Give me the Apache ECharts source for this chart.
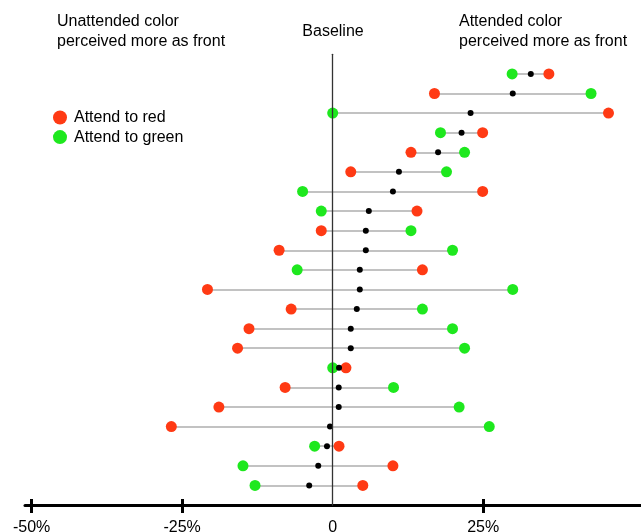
<!DOCTYPE html>
<html>
<head>
<meta charset="utf-8">
<script src="https://cdn.jsdelivr.net/npm/echarts@6/dist/echarts.min.js"></script>
<style>html,body{margin:0;padding:0;background:#fff}#c{width:641px;height:532px}</style>
</head>
<body>
<div id="c"></div>
<script>
// rows from top (1) to bottom (22)
var rows = [1,2,3,4,5,6,7,8,9,10,11,12,13,14,15,16,17,18,19,20,21,22];
var attendRed   = [35.9, 16.9, 45.8, 24.9, 13.0, 3.0, 24.9, 14.0, -1.9, -8.9, 14.9, -20.8, -6.9, -13.9, -15.8, 2.2, -7.9, -18.9, -26.8, 1.05, 10.0, 5.0];
var attendGreen = [29.8, 42.9, 0.0, 17.9, 21.9, 18.9, -5.0, -1.9, 13.0, 19.9, -5.9, 29.9, 14.9, 19.9, 21.9, 0.0, 10.1, 21.0, 26.0, -3.0, -14.9, -12.9];
var meanVals    = [32.9, 29.9, 22.9, 21.4, 17.5, 11.0, 10.0, 6.0, 5.5, 5.5, 4.5, 4.5, 4.0, 3.0, 3.0, 1.05, 1.0, 1.0, -0.45, -0.95, -2.4, -3.9];
var tickValues  = [-50, -25, 25];
var labelValues = [-50, -25, 0, 25];

var FONT = "'Liberation Sans', Arial, sans-serif";
var RED = '#ff3a14', GREEN = '#1ee81e';

var chart = echarts.init(document.getElementById('c'), null, {renderer: 'canvas'});

var segs = rows.map(function (r, i) { return {coords: [[attendRed[i], r], [attendGreen[i], r]]}; });
var redPts = rows.map(function (r, i) { return [attendRed[i], r]; });
var greenPts = rows.map(function (r, i) { return [attendGreen[i], r]; });
var meanPts = rows.map(function (r, i) { return [meanVals[i], r]; });

chart.setOption({
  animation: false,
  backgroundColor: '#fff',
  textStyle: {fontFamily: FONT},
  grid: {left: 25, right: 0, top: 54.3, bottom: 27, containLabel: false, outerBoundsMode: 'none'},
  legend: {
    data: ['Attend to red', 'Attend to green'],
    orient: 'vertical', left: 48, top: 104.5, itemGap: 3.6,
    itemWidth: 14, itemHeight: 14, icon: 'circle',
    textStyle: {fontSize: 16, color: '#000', fontFamily: FONT, padding: [0, 0, 0, 2]},
    selectedMode: false
  },
  graphic: [
    {type: 'text', left: 57, top: 12, style: {text: 'Unattended color\nperceived more as front', fontSize: 16, lineHeight: 19.4, fill: '#000', fontFamily: FONT}},
    {type: 'text', left: 459, top: 12, style: {text: 'Attended color\nperceived more as front', fontSize: 16, lineHeight: 19.4, fill: '#000', fontFamily: FONT}},
    {type: 'text', x: 333, y: 32, style: {text: 'Baseline', fontSize: 16, fill: '#000', fontFamily: FONT, align: 'center', verticalAlign: 'middle'}}
  ],
  xAxis: [{
    type: 'value', min: -51.1, max: 51.2, position: 'bottom',
    axisLine: {onZero: false, lineStyle: {color: '#000', width: 3}},
    axisTick: {show: true, customValues: tickValues, length: 8, lineStyle: {color: '#000', width: 3}},
    axisLabel: {show: true, customValues: labelValues, margin: 15, fontSize: 16, color: '#000', fontFamily: FONT,
      formatter: function (v) { return v === 0 ? '0' : v + '%'; }},
    splitLine: {show: false}
  }, {
    type: 'value', min: -51.1, max: 51.2, position: 'bottom',
    axisLine: {show: false, onZero: false},
    axisTick: {show: true, inside: true, customValues: tickValues, length: 6, lineStyle: {color: '#000', width: 3}},
    axisLabel: {show: false},
    splitLine: {show: false}
  }],
  yAxis: {
    type: 'value', min: 0, max: 23, inverse: true, z: 10,
    axisLine: {show: true, onZero: true, lineStyle: {color: '#333', width: 1.3}},
    axisTick: {show: false}, axisLabel: {show: false}, splitLine: {show: false}
  },
  series: [
    {type: 'lines', coordinateSystem: 'cartesian2d', xAxisIndex: 0, data: segs, z: 1,
      lineStyle: {color: '#c2c2c2', width: 2, opacity: 1}, silent: true},
    {name: 'Attend to green', type: 'scatter', xAxisIndex: 0, data: greenPts, symbolSize: 11, z: 3,
      itemStyle: {color: GREEN, opacity: 1}},
    {name: 'Attend to red', type: 'scatter', xAxisIndex: 0, data: redPts, symbolSize: 11, z: 4,
      itemStyle: {color: RED, opacity: 1}},
    {name: 'mean', type: 'scatter', xAxisIndex: 0, data: meanPts, symbolSize: 6, z: 5,
      itemStyle: {color: '#000', opacity: 1}}
  ]
});
</script>
</body>
</html>
